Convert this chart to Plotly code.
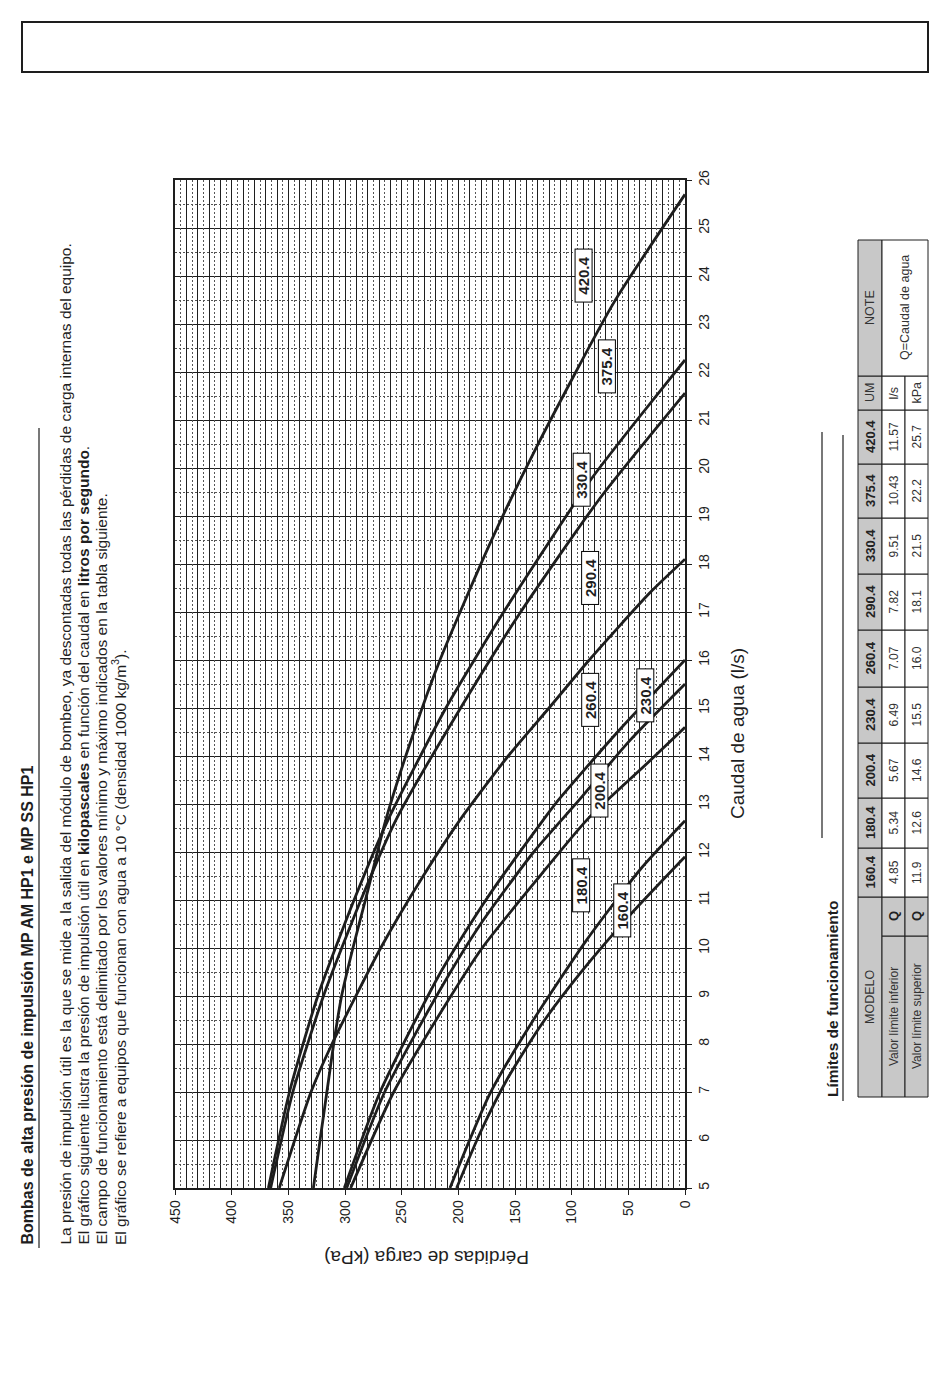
import plotly.graph_objects as go

# ---------------- data ----------------
models = ["160.4", "180.4", "200.4", "230.4", "260.4", "290.4", "330.4", "375.4", "420.4"]

q_160 = [5, 6.14, 7.25, 8.36, 9.47, 10.7, 11.9]
p_160 = [201.5, 180.9, 157.3, 128, 92.6, 48, 0]

q_180 = [5, 6.97, 8.5, 10.17, 11.63, 12.65]
p_180 = [207.4, 172, 133.8, 86.7, 39.7, 0]

q_200 = [5, 7, 8.64, 10, 11.5, 12.67, 13.9, 14.6]
p_200 = [295, 257, 216, 179, 128, 86.5, 31, 0]

q_230 = [5, 7, 9.125, 10.5, 12, 13.08, 14.3, 15.5]
p_230 = [298.5, 265, 216.2, 180.3, 133.5, 93.5, 49.6, 0]

q_260 = [5, 7, 9.47, 11, 12.67, 13.08, 14.5, 16.0]
p_260 = [300.6, 269, 216.2, 175.7, 125, 111.8, 59.5, 0]

q_290 = [5, 7, 8, 10, 11.5, 12.67, 14, 15, 16, 17.4, 18.1]
p_290 = [358, 330, 311.5, 268.5, 231, 198.5, 156, 120, 84.5, 31, 0]

q_330 = [5, 7, 9, 11, 12.67, 15, 17, 19.37, 21.56]
p_330 = [365.6, 346, 319, 286, 255, 198, 145, 75, 0]

q_375 = [5, 7, 9, 11, 12.67, 15, 17, 19.78, 21, 22.25]
p_375 = [367.6, 349, 324, 292, 262, 211, 160, 82.4, 42.4, 0]

q_420 = [5, 6, 7.25, 8, 9, 10, 11, 12.67, 14.47, 16, 18.43, 20.44, 23.43, 25.7]
p_420 = [327.9, 322, 314.5, 310, 303, 293, 282, 264, 239.7, 216.2, 172, 130.9, 63.2, 0]

# curve label positions (kPa, l/s)
label_kpa = [55.3, 92.0, 75.9, 35.0, 83.8, 83.8, 91.6, 68.7, 89.5]
label_q = [10.79, 11.3, 13.28, 15.27, 15.17, 17.71, 19.76, 22.12, 24.0]

# axis ticks
kpa_ticks = list(range(0, 451, 50))
q_ticks = list(range(5, 27))

# table
q_min = ["4.85", "5.34", "5.67", "6.49", "7.07", "7.82", "9.51", "10.43", "11.57"]
q_max = ["11.9", "12.6", "14.6", "15.5", "16.0", "18.1", "21.5", "22.2", "25.7"]
row_labels = ["Valor límite inferior", "Valor límite superior"]
row_units = ["l/s", "kPa"]

curves = [(q_160, p_160), (q_180, p_180), (q_200, p_200), (q_230, p_230),
          (q_260, p_260), (q_290, p_290), (q_330, p_330), (q_375, p_375),
          (q_420, p_420)]

# ---------------- layout helpers ----------------
W, H = 950, 1379
L, R, T, B = 175, 685, 180, 1188
FONT = "Liberation Sans, Arial, sans-serif"


def px(x):
    return (x - L) / (R - L)


def py(y):
    return (B - y) / (B - T)


fig = go.Figure()

for (q, p), name in zip(curves, models):
    fig.add_trace(go.Scatter(x=p, y=q, mode="lines", name=name,
                             line=dict(color="#1e1e1e", width=2.8, shape="spline", smoothing=0.6),
                             hoverinfo="skip", showlegend=False))

# dummy trace for the overlay axis carrying the dotted 5 kPa grid
fig.add_trace(go.Scatter(x=[None], y=[None], xaxis="x2", yaxis="y", showlegend=False,
                         hoverinfo="skip"))

annotations = []
for name, xk, yq in zip(models, label_kpa, label_q):
    annotations.append(dict(x=xk, y=yq, xref="x", yref="y", text="<b>" + name + "</b>",
                            showarrow=False, textangle=-90, bgcolor="white",
                            bordercolor="black", borderwidth=1, borderpad=1,
                            width=50, height=14,
                            font=dict(family=FONT, size=15, color="#1e1e1e")))

# axis titles
annotations.append(dict(xref="paper", yref="paper", x=px(737), y=py(734),
                        text="Caudal de agua (l/s)", showarrow=False, textangle=-90,
                        xanchor="center", yanchor="middle",
                        font=dict(family=FONT, size=19, color="#1e1e1e")))
annotations.append(dict(xref="paper", yref="paper", x=px(427), y=py(1258),
                        text="Pérdidas de carga (kPa)", showarrow=False, textangle=180,
                        xanchor="center", yanchor="middle",
                        font=dict(family=FONT, size=19, color="#1e1e1e")))

# page text (rotated)
annotations.append(dict(xref="paper", yref="paper", x=px(27), y=py(1247),
                        text="<b>Bombas de alta presión de impulsión MP AM HP1 e MP SS HP1</b>",
                        showarrow=False, textangle=-90, xanchor="center", yanchor="bottom",
                        font=dict(family=FONT, size=16, color="#1e1e1e")))
para = [
    "La presión de impulsión útil es la que se mide a la salida del módulo de bombeo, ya descontadas todas las pérdidas de carga internas del equipo.",
    "El gráfico siguiente ilustra la presión de impulsión útil en <b>kilopascales</b> en función del caudal en <b>litros por segundo</b>.",
    "El campo de funcionamiento está delimitado por los valores mínimo y máximo indicados en la tabla siguiente.",
    "El gráfico se refiere a equipos que funcionan con agua a 10 °C (densidad 1000 kg/m<sup>3</sup>).",
]
for i, line in enumerate(para):
    annotations.append(dict(xref="paper", yref="paper", x=px(65 + 18 * i), y=py(1247),
                            text=line, showarrow=False, textangle=-90,
                            xanchor="center", yanchor="bottom",
                            font=dict(family=FONT, size=15.5, color="#1e1e1e")))

annotations.append(dict(xref="paper", yref="paper", x=px(832), y=py(1099),
                        text="<b>Límites de funcionamiento</b>", showarrow=False, textangle=-90,
                        xanchor="center", yanchor="bottom",
                        font=dict(family=FONT, size=15.5, color="#1e1e1e")))

shapes = []


def line_px(x0, y0, x1, y1, w=1.2):
    shapes.append(dict(type="line", xref="paper", yref="paper",
                       x0=px(x0), y0=py(y0), x1=px(x1), y1=py(y1),
                       line=dict(color="#1e1e1e", width=w)))


def rect_px(x0, y0, x1, y1, fill, w=1):
    shapes.append(dict(type="rect", xref="paper", yref="paper",
                       x0=px(x0), y0=py(y0), x1=px(x1), y1=py(y1),
                       fillcolor=fill, line=dict(color="#1e1e1e", width=w), layer="above"))


def text_px(x, y, s, size=12, bold=False, color="#1e1e1e"):
    annotations.append(dict(xref="paper", yref="paper", x=px(x), y=py(y),
                            text=("<b>%s</b>" % s) if bold else s, showarrow=False,
                            textangle=-90, xanchor="center", yanchor="middle",
                            font=dict(family=FONT, size=size, color=color)))


# page header box and rules
rect_px(22, 22, 928, 72, "rgba(0,0,0,0)", w=2)
line_px(39, 428, 39, 1248)
line_px(822, 432, 822, 838)
line_px(843, 435, 843, 1101)

# table geometry (pixels on the page)
GREY = "#c8c8c8"
cx = [858, 882, 905, 928]           # header | row1 | row2 edges
col_b = [897, 848, 798, 743, 687, 630, 574, 518, 464, 410]
y_bot, y_nameq, y_um, y_top = 1097, 936, 376, 240

# header column
rect_px(cx[0], y_bot, cx[1], col_b[0], GREY)
text_px((cx[0] + cx[1]) / 2, (y_bot + col_b[0]) / 2, "MODELO", size=12.5, color="#333")
for i, m in enumerate(models):
    rect_px(cx[0], col_b[i], cx[1], col_b[i + 1], GREY)
    text_px((cx[0] + cx[1]) / 2, (col_b[i] + col_b[i + 1]) / 2, m, size=13, bold=True, color="#222")
rect_px(cx[0], col_b[-1], cx[1], y_um, GREY)
text_px((cx[0] + cx[1]) / 2, (col_b[-1] + y_um) / 2, "UM", size=12.5, color="#333")
rect_px(cx[0], y_um, cx[1], y_top, GREY)
text_px((cx[0] + cx[1]) / 2, (y_um + y_top) / 2, "NOTE", size=12.5, color="#333")

# data rows
for r, (vals, lab, unit) in enumerate(zip([q_min, q_max], row_labels, row_units)):
    xa, xb = cx[r + 1], cx[r + 2]
    xm = (xa + xb) / 2
    rect_px(xa, y_bot, xb, y_nameq, GREY)
    text_px(xm, (y_bot + y_nameq) / 2, lab, size=12, color="#333")
    rect_px(xa, y_nameq, xb, col_b[0], GREY)
    text_px(xm, (y_nameq + col_b[0]) / 2, "Q", size=13, bold=True, color="#222")
    for i, v in enumerate(vals):
        rect_px(xa, col_b[i], xb, col_b[i + 1], "white")
        text_px(xm, (col_b[i] + col_b[i + 1]) / 2, v, size=12, color="#333")
    rect_px(xa, col_b[-1], xb, y_um, "white")
    text_px(xm, (col_b[-1] + y_um) / 2, unit, size=12.5, color="#333")
rect_px(cx[1], y_um, cx[3], y_top, "white")
text_px((cx[1] + cx[3]) / 2, (y_um + y_top) / 2, "Q=Caudal de agua", size=12.5, color="#333")

minor_kpa = [v for v in range(10, 450, 10) if v % 50]
dot_kpa = list(range(5, 450, 10))
minor_q = [v + 0.5 for v in range(5, 26)]

fig.update_layout(
    width=W, height=H,
    margin=dict(l=L, r=W - R, t=T, b=H - B, pad=0),
    paper_bgcolor="white", plot_bgcolor="white",
    showlegend=False,
    xaxis=dict(range=[450, 0], tickmode="array", tickvals=kpa_ticks,
               ticks="outside", ticklen=5, tickcolor="#1e1e1e", tickangle=-90,
               tickfont=dict(family=FONT, size=14, color="#1e1e1e"),
               showgrid=True, gridcolor="#1e1e1e", gridwidth=1,
               minor=dict(tickvals=minor_kpa, showgrid=True, gridcolor="#1e1e1e",
                          gridwidth=1, ticks=""),
               showline=True, linecolor="#1e1e1e", linewidth=1.5, mirror=True,
               zeroline=False, fixedrange=True),
    xaxis2=dict(overlaying="x", anchor="y", range=[450, 0], tickmode="array",
                tickvals=dot_kpa, showticklabels=False, ticks="",
                showgrid=True, gridcolor="#555", gridwidth=1, griddash="2px,2px",
                showline=False, zeroline=False, fixedrange=True),
    yaxis=dict(range=[5, 26], side="right", tickmode="array", tickvals=q_ticks,
               ticks="outside", ticklen=5, tickcolor="#1e1e1e", tickangle=-90,
               tickfont=dict(family=FONT, size=14, color="#1e1e1e"),
               showgrid=True, gridcolor="#1e1e1e", gridwidth=1,
               minor=dict(tickvals=minor_q, showgrid=True, gridcolor="#555",
                          gridwidth=1, griddash="2px,2px", ticks=""),
               showline=True, linecolor="#1e1e1e", linewidth=1.5, mirror=True,
               zeroline=False, fixedrange=True),
    annotations=annotations,
    shapes=shapes,
)

fig.write_html("out.html", post_script="document.body.style.margin='0px';",
               config={"displayModeBar": False})
